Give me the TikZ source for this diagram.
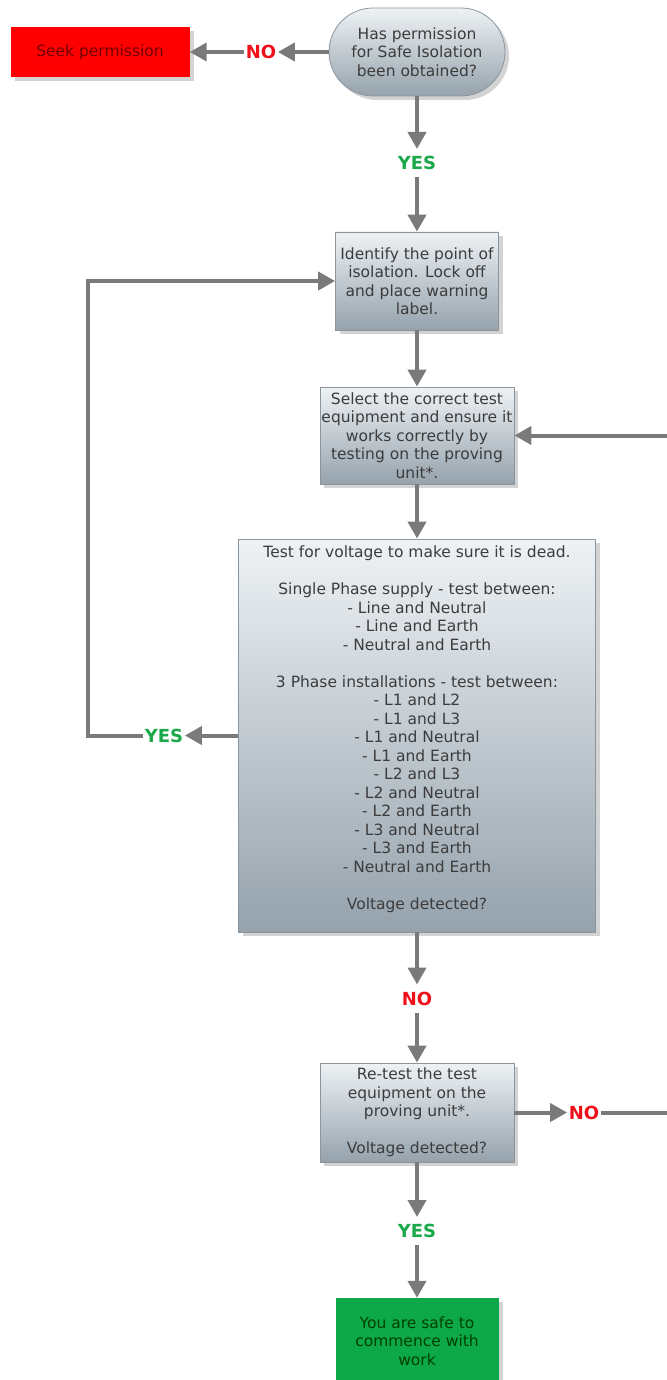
\documentclass[tikz,border=0pt]{standalone}
\usepackage{fontspec}
\setmainfont{DejaVu Sans}
\usetikzlibrary{arrows.meta,shapes.misc,shadows}

\definecolor{boxtop}{HTML}{EEF2F5}
\definecolor{boxbot}{HTML}{95A2AC}
\definecolor{boxline}{HTML}{8A959E}
\definecolor{flowgray}{HTML}{7A7A7A}
\definecolor{yesgreen}{HTML}{1BA84A}
\definecolor{nored}{HTML}{F0101A}
\definecolor{seekred}{HTML}{FF0000}
\definecolor{safegreen}{HTML}{0DA84A}
\definecolor{txtgray}{HTML}{3C3C3C}

\begin{document}
\begin{tikzpicture}[x=1pt, y=-1pt,
    box/.style={draw=boxline, line width=0.8pt, top color=boxtop, bottom color=boxbot,
        text=txtgray, align=center, inner sep=0pt,
        font=\fontsize{15.5}{18.5}\selectfont,
        drop shadow={opacity=0.35, shadow xshift=4pt, shadow yshift=-4pt}},
    decision/.style={box, rounded rectangle, minimum width=176pt, minimum height=88pt},
    stopbox/.style={draw=none, fill=seekred, text=red!45!black, minimum width=179pt, minimum height=50pt,
        font=\fontsize{15.5}{18.5}\selectfont,
        drop shadow={opacity=0.35, shadow xshift=4pt, shadow yshift=-4pt}},
    safebox/.style={draw=none, fill=safegreen, text=green!25!black, align=center,
        minimum width=163pt, minimum height=86pt, font=\fontsize{15.5}{18.5}\selectfont,
        drop shadow={opacity=0.35, shadow xshift=4pt, shadow yshift=-4pt}},
    yeslbl/.style={text=yesgreen, font=\bfseries\fontsize{18}{18}\selectfont, inner xsep=1.5pt, inner ysep=7pt},
    nolbl/.style={text=nored, font=\bfseries\fontsize{18}{18}\selectfont, inner xsep=1.5pt, inner ysep=7pt},
    flow/.style={draw=flowgray, line width=4pt, -{Triangle[length=17pt,width=18pt]}}]

    \useasboundingbox (0,0) rectangle (666,1380);

    \node[decision] (perm) at (417,52) {Has permission\\for Safe Isolation\\been obtained?};
    \node[stopbox] (seek) at (100,52) {Seek permission};
    \node[nolbl] (no1) at (261,52) {NO};
    \node[yeslbl] (yes1) at (417,163) {YES};
    \node[box, minimum width=163pt, minimum height=98pt] (isolate) at (417,281)
        {Identify the point of\\isolation. Lock off\\and place warning\\label.};
    \node[box, minimum width=194pt, minimum height=97pt] (select) at (417,435.5)
        {Select the correct test\\equipment and ensure it\\works correctly by\\testing on the proving\\unit*.};
    \node[box, minimum width=357pt, minimum height=393pt, text depth=15.5pt] (test) at (417,735.5)
        {Test for voltage to make sure it is dead.\\~\\
        Single Phase supply - test between:\\- Line and Neutral\\- Line and Earth\\- Neutral and Earth\\~\\
        3 Phase installations - test between:\\- L1 and L2\\- L1 and L3\\- L1 and Neutral\\- L1 and Earth\\
        - L2 and L3\\- L2 and Neutral\\- L2 and Earth\\- L3 and Neutral\\- L3 and Earth\\- Neutral and Earth\\~\\
        Voltage detected?};
    \node[yeslbl] (yes3) at (164,735.5) {YES};
    \coordinate (backL) at (88,735.5);
    \node[nolbl] (no2) at (417,998.5) {NO};
    \node[box, minimum width=194pt, minimum height=99pt] (retest) at (417,1112.5)
        {Re-test the test\\equipment on the\\proving unit*.\\~\\Voltage detected?};
    \node[nolbl] (no3) at (584,1112.5) {NO};
    \coordinate (backR) at (676,1112.5);
    \node[yeslbl] (yes2) at (417,1231) {YES};
    \node[safebox] (safe) at (417,1341) {You are safe to\\commence with\\work};

    \draw[flow] (perm.west) -- (no1.east);
    \draw[flow] (no1.west) -- (seek.east);
    \draw[flow] (perm.south) -- (yes1.north);
    \draw[flow] (yes1.south) -- (isolate.north);
    \draw[flow] (isolate.south) -- (select.north);
    \draw[flow] (select.south) -- (test.north);
    \draw[flow] (test.west) -- (yes3.east);
    \draw[flow] (yes3.west) -- (backL) |- (isolate.west);
    \draw[flow] (test.south) -- (no2.north);
    \draw[flow] (no2.south) -- (retest.north);
    \draw[flow] (retest.east) -- (no3.west);
    \draw[flow] (no3.east) -- (backR) |- (select.east);
    \draw[flow] (retest.south) -- (yes2.north);
    \draw[flow] (yes2.south) -- (safe.north);
\end{tikzpicture}
\end{document}
